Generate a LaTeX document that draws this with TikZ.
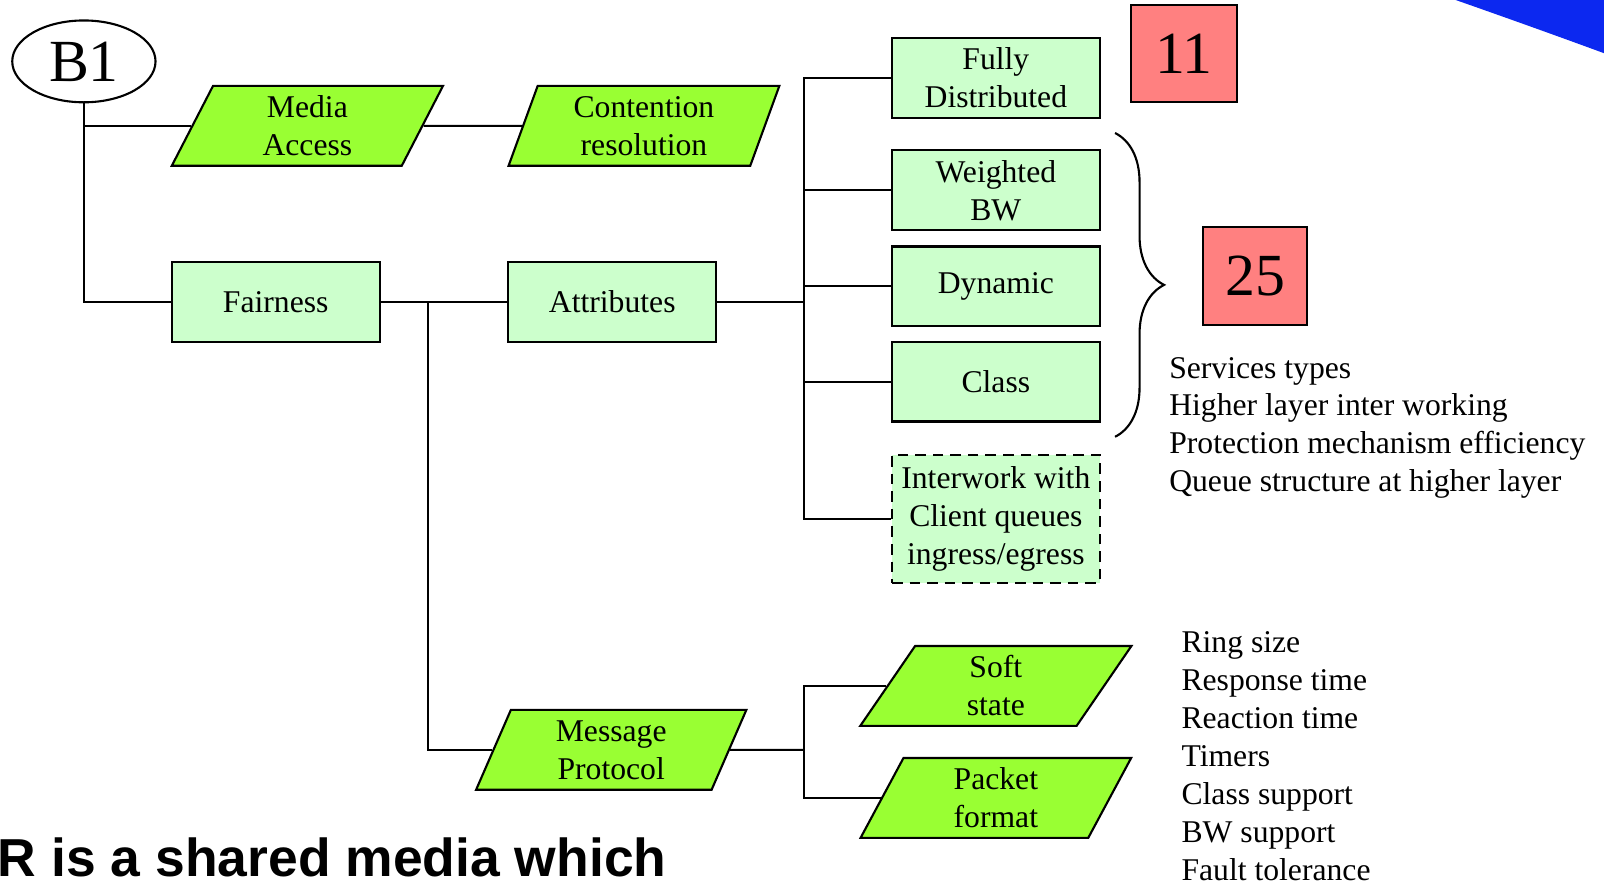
\documentclass[tikz,border=0pt]{standalone}
\usepackage{fontspec}
\setmainfont{Liberation Serif}
\newfontfamily\slidefont{Liberation Sans}
\usetikzlibrary{shapes.geometric,decorations.pathreplacing}
\definecolor{paragreen}{RGB}{153,255,51}
\definecolor{boxgreen}{RGB}{204,255,204}
\definecolor{countred}{RGB}{255,128,128}
\definecolor{slideblue}{RGB}{12,40,240}

\begin{document}
\begin{tikzpicture}[x=0.01023cm, y=-0.01023cm, line width=0.6pt,
  every node/.style={font=\fontsize{9}{10.8}\selectfont},
  greenbox/.style={draw, fill=boxgreen, minimum width=2.077cm, minimum height=0.798cm, inner sep=0pt, align=center},
  slantbox/.style={trapezium, trapezium left angle=72, trapezium right angle=108, trapezium stretches=true,
    draw, fill=paragreen, minimum width=2.711cm, minimum height=0.798cm, inner sep=0pt, align=center},
  countbox/.style={draw, fill=countred, inner sep=0pt, font=\fontsize{17}{20}\selectfont},
  notes/.style={anchor=north west, align=left, inner sep=0pt}]
\useasboundingbox (0,0) rectangle (1568,867);
%\draw[very thin, color=gray, step=100] (0,0) grid (1568,867);
\fill[slideblue] (1423,0) .. controls (1480,20) and (1530,38) .. (1568,52) -- (1568,0) -- cycle;
%----------------------------------------
\node[draw, ellipse, minimum width=1.432cm, minimum height=0.818cm, inner sep=0pt, font=\fontsize{17}{20}\selectfont] (b1) at (82,60) {B1};
\node[slantbox] (ma) at (300.5,123) {Media\\Access};
\node[slantbox] (cr) at (629.5,123) {Contention\\resolution};
\node[greenbox] (fair) at (269.5,295) {Fairness};
\node[greenbox] (attr) at (598.5,295) {Attributes};
\node[greenbox] (fd) at (973.5,76) {Fully\\Distributed};
\node[greenbox] (wbw) at (973.5,186) {Weighted\\BW};
\node[greenbox] (dyn) at (973.5,280) {Dynamic};
\node[greenbox] (cls) at (973.5,373) {Class};
\node[greenbox, densely dashed, minimum height=1.279cm] (iw) at (973.5,507) {Interwork with\\Client queues\\ingress/egress};
\node[slantbox] (mp) at (597.5,733) {Message\\Protocol};
\node[slantbox] (soft) at (973.5,670.5) {Soft\\state};
\node[slantbox] (pkt) at (973.5,780) {Packet\\format};
%----------------------------------------
\node[countbox, minimum width=1.054cm, minimum height=0.972cm] (c11) at (1157.5,52.5) {11};
\node[countbox, minimum width=1.043cm, minimum height=0.982cm] (c25) at (1227,270) {25};
\node[notes] (svc) at (1142,348) {Services types\\Higher layer inter working\\Protection mechanism efficiency\\Queue structure at higher layer};
\node[notes] (timing) at (1154,616) {Ring size\\Response time\\Reaction time\\Timers\\Class support\\BW support\\Fault tolerance};
\node[anchor=base west, inner sep=0pt, font=\slidefont\bfseries\fontsize{15.2}{18}\selectfont] (slide) at (-3,857) {R is a shared media which};
%----------------------------------------
\coordinate (fj) at (418,295);
\coordinate (aj) at (786,295);
\coordinate (mj) at (786,733);
\coordinate (bt) at (1090,130);
\coordinate (bb) at (1090,427);
%----------------------------------------
\draw (b1.south) |- (ma);
\draw (b1.south) |- (fair);
\draw (ma) -- (cr);
\draw (fair) -- (attr);
\draw (fj) |- (mp);
\draw (attr) -- (aj);
\draw (aj) |- (fd);
\draw (aj) |- (wbw);
\draw (aj) |- (dyn);
\draw (aj) |- (cls);
\draw (aj) |- (iw);
\draw (mp) -- (mj);
\draw (mj) |- (soft);
\draw (mj) |- (pkt);
\draw[decorate, decoration={brace, amplitude=0.49cm}] (bt) -- (bb);
\end{tikzpicture}
\end{document}
